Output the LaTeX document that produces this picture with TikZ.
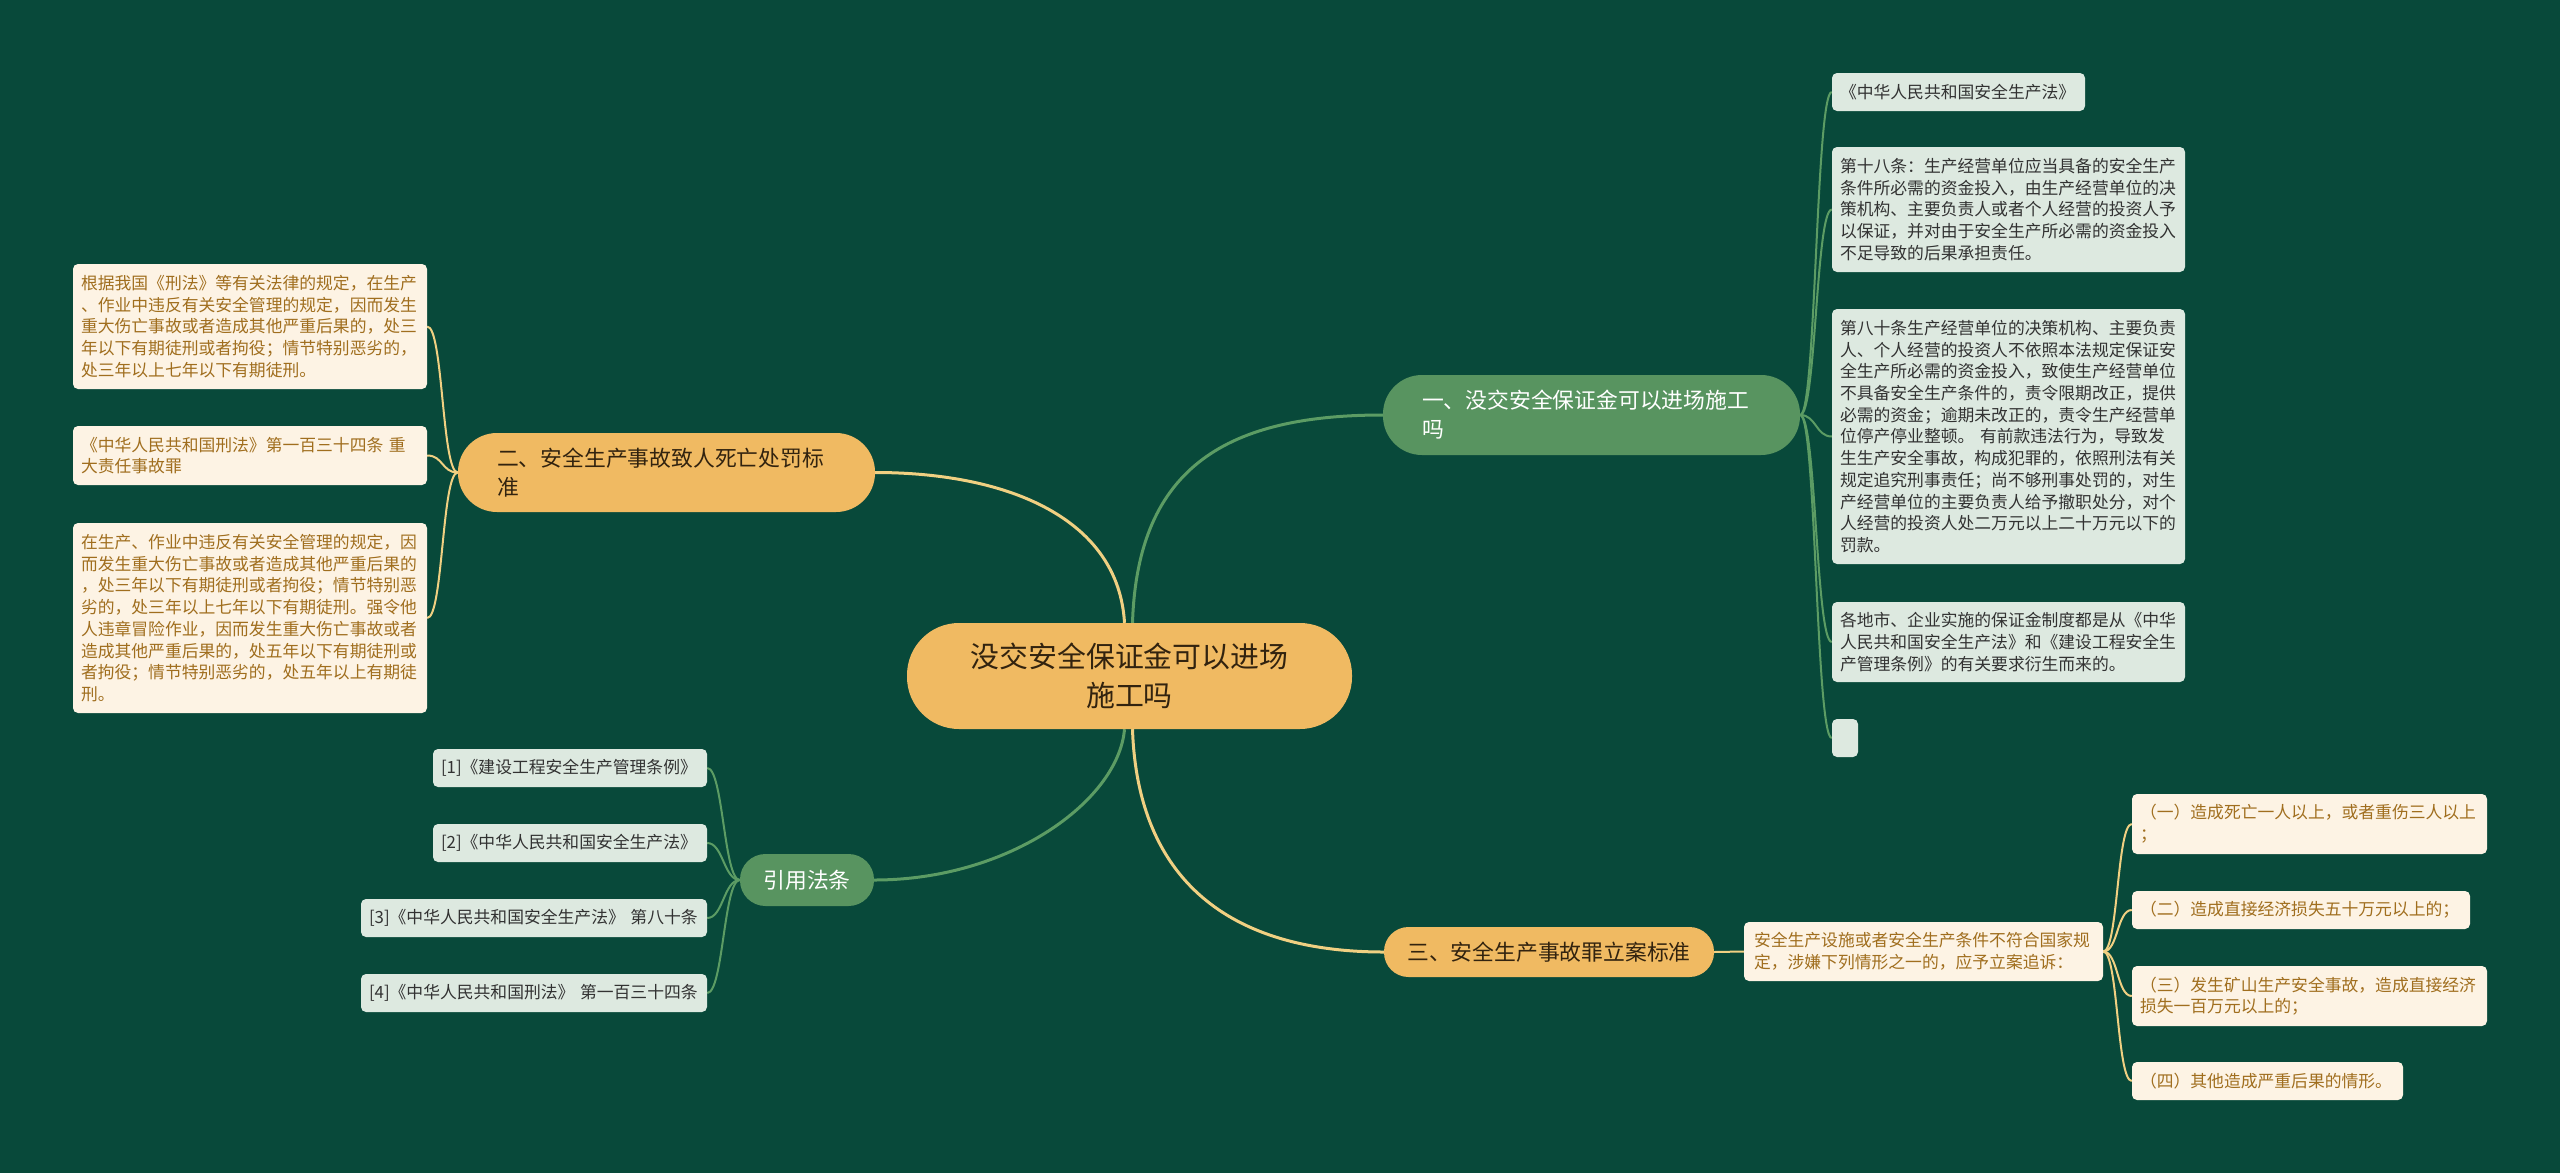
\documentclass[tikz,border=0pt]{standalone}
\usepackage{fontspec}
\setmainfont{Noto Sans CJK SC}
\definecolor{bgc}{RGB}{8,73,58}
\definecolor{gnode}{RGB}{88,148,96}
\definecolor{orng}{RGB}{240,186,98}
\definecolor{glinec}{RGB}{92,156,100}
\definecolor{ylinec}{RGB}{240,208,130}
\definecolor{lgbox}{RGB}{221,233,224}
\definecolor{crbox}{RGB}{253,243,228}
\definecolor{dtext}{RGB}{50,50,50}
\definecolor{gtext}{RGB}{160,110,30}
\definecolor{ptext}{RGB}{50,35,15}
\pgfdeclarelayer{bgl}
\pgfdeclarelayer{edges}
\pgfsetlayers{bgl,edges,main}
\begin{document}
\begin{tikzpicture}[x=1pt,y=-1pt,
  lbox/.style={fill=lgbox, text=dtext, rounded corners=5pt, font=\fontsize{16.8}{21.7}\selectfont, align=left, inner xsep=8pt, inner ysep=0pt},
  cbox/.style={fill=crbox, text=gtext, rounded corners=5pt, font=\fontsize{16.8}{21.7}\selectfont, align=left, inner xsep=8pt, inner ysep=0pt},
  pillO/.style={fill=orng, text=ptext, inner ysep=0pt},
  pillG/.style={fill=gnode, text=white, inner ysep=0pt},
  mainG/.style={draw=glinec, line width=3pt},
  mainY/.style={draw=ylinec, line width=3pt},
  subG/.style={draw=glinec, line width=2pt},
  subY/.style={draw=ylinec, line width=2pt},
]
\begin{pgfonlayer}{bgl}
\fill[bgc] (0,0) rectangle (2560,1173);
\end{pgfonlayer}
\useasboundingbox (0,0) rectangle (2560,1173);

% root
\node[pillO, rounded corners=52pt, minimum width=445pt, minimum height=106pt, text width=405pt, inner xsep=20pt, align=center,
  font=\fontsize{28.9}{39}\selectfont] (root) at (1129.5,676) {没交安全保证金可以进场\\施工吗};

% main branches
\node[pillG, rounded corners=39pt, minimum width=417pt, minimum height=80pt, text width=339pt, inner xsep=39pt, align=left,
  font=\fontsize{21.8}{29}\selectfont] (n1) at (1591.5,415) {一、没交安全保证金可以进场施工\\吗};
\node[pillO, rounded corners=39pt, minimum width=417pt, minimum height=79pt, text width=339pt, inner xsep=39pt, align=left,
  font=\fontsize{21.8}{29}\selectfont] (n2) at (666.5,472.5) {二、安全生产事故致人死亡处罚标\\准};
\node[pillO, rounded corners=24.5pt, minimum width=330pt, minimum height=50pt, text width=300pt, inner xsep=15pt, align=center,
  font=\fontsize{21.8}{29}\selectfont] (n3) at (1549,952) {三、安全生产事故罪立案标准};
\node[pillG, rounded corners=25.5pt, minimum width=134pt, minimum height=52pt, text width=110pt, inner xsep=12pt, align=center,
  font=\fontsize{21.8}{29}\selectfont] (ref) at (807,880) {引用法条};

% children of n1
\node[lbox, minimum width=253pt, minimum height=38pt, text width=237pt] (c1) at (1958.5,92) {《中华人民共和国安全生产法》};
\node[lbox, minimum width=353pt, minimum height=125pt, text width=337pt] (c2) at (2008.5,209.5) {第十八条：生产经营单位应当具备的安全生产\\条件所必需的资金投入，由生产经营单位的决\\策机构、主要负责人或者个人经营的投资人予\\以保证，并对由于安全生产所必需的资金投入\\不足导致的后果承担责任。};
\node[lbox, minimum width=353pt, minimum height=255pt, text width=337pt] (c3) at (2008.5,436.5) {第八十条生产经营单位的决策机构、主要负责\\人、个人经营的投资人不依照本法规定保证安\\全生产所必需的资金投入，致使生产经营单位\\不具备安全生产条件的，责令限期改正，提供\\必需的资金；逾期未改正的，责令生产经营单\\位停产停业整顿。~有前款违法行为，导致发\\生生产安全事故，构成犯罪的，依照刑法有关\\规定追究刑事责任；尚不够刑事处罚的，对生\\产经营单位的主要负责人给予撤职处分，对个\\人经营的投资人处二万元以上二十万元以下的\\罚款。};
\node[lbox, minimum width=353pt, minimum height=80pt, text width=337pt] (c4) at (2008.5,642) {各地市、企业实施的保证金制度都是从《中华\\人民共和国安全生产法》和《建设工程安全生\\产管理条例》的有关要求衍生而来的。};
\node[lbox, minimum width=26pt, minimum height=38pt, inner xsep=0pt] (c5) at (1845,738) {};

% children of n2
\node[cbox, minimum width=354pt, minimum height=125pt, text width=338pt] (b1) at (250,326.5) {根据我国《刑法》等有关法律的规定，在生产\\、作业中违反有关安全管理的规定，因而发生\\重大伤亡事故或者造成其他严重后果的，处三\\年以下有期徒刑或者拘役；情节特别恶劣的，\\处三年以上七年以下有期徒刑。};
\node[cbox, minimum width=354pt, minimum height=59pt, text width=338pt] (b2) at (250,455.5) {《中华人民共和国刑法》第一百三十四条~重\\大责任事故罪};
\node[cbox, minimum width=354pt, minimum height=190pt, text width=338pt] (b3) at (250,618) {在生产、作业中违反有关安全管理的规定，因\\而发生重大伤亡事故或者造成其他严重后果的\\，处三年以下有期徒刑或者拘役；情节特别恶\\劣的，处三年以上七年以下有期徒刑。强令他\\人违章冒险作业，因而发生重大伤亡事故或者\\造成其他严重后果的，处五年以下有期徒刑或\\者拘役；情节特别恶劣的，处五年以上有期徒\\刑。};

% children of ref
\node[lbox, minimum width=274pt, minimum height=38pt, text width=258pt] (r1) at (570,768) {[1]《建设工程安全生产管理条例》};
\node[lbox, minimum width=274pt, minimum height=38pt, text width=258pt] (r2) at (570,843) {[2]《中华人民共和国安全生产法》};
\node[lbox, minimum width=346pt, minimum height=38pt, text width=330pt] (r3) at (534,918) {[3]《中华人民共和国安全生产法》~第八十条};
\node[lbox, minimum width=346pt, minimum height=38pt, text width=330pt] (r4) at (534,993) {[4]《中华人民共和国刑法》~第一百三十四条};

% children of n3
\node[cbox, minimum width=359pt, minimum height=59pt, text width=339pt, inner xsep=10pt] (m) at (1923.5,951.5) {安全生产设施或者安全生产条件不符合国家规\\定，涉嫌下列情形之一的，应予立案追诉：};
\node[cbox, minimum width=355pt, minimum height=60pt, text width=339pt] (t1) at (2309.5,824) {（一）造成死亡一人以上，或者重伤三人以上\\；};
\node[cbox, minimum width=338pt, minimum height=38pt, text width=322pt] (t2) at (2301,910) {（二）造成直接经济损失五十万元以上的；};
\node[cbox, minimum width=355pt, minimum height=60pt, text width=339pt] (t3) at (2309.5,996) {（三）发生矿山生产安全事故，造成直接经济\\损失一百万元以上的；};
\node[cbox, minimum width=271pt, minimum height=38pt, text width=255pt] (t4) at (2267.5,1081) {（四）其他造成严重后果的情形。};

\begin{pgfonlayer}{edges}
  % root to main branches
  \draw[mainG] ([xshift=3pt]root.north) .. controls +(5,-158) and +(-153,0) .. (n1.west);
  \draw[mainY] ([xshift=-5pt]root.north) .. controls +(-6,-103) and +(135,0) .. (n2.east);
  \draw[mainG] ([xshift=-5pt]root.south) .. controls +(-6,71) and +(136,0) .. (ref.east);
  \draw[mainY] ([xshift=3pt]root.south) .. controls +(5,151) and +(-154,0) .. (n3.west);
  % n1 children
  \foreach \c in {c1,c2,c3,c4,c5}
    \draw[subG] (n1.east) .. controls +(16,0) and +(-16,0) .. (\c.west);
  % n2 children
  \foreach \c in {b1,b2,b3}
    \draw[subY] (n2.west) .. controls +(-16,0) and +(16,0) .. (\c.east);
  % ref children
  \foreach \c in {r1,r2,r3,r4}
    \draw[subG] (ref.west) .. controls +(-16,0) and +(16,0) .. (\c.east);
  % n3 children
  \draw[subY] (n3.east) -- (m.west);
  \foreach \c in {t1,t2,t3,t4}
    \draw[subY] (m.east) .. controls +(15,0) and +(-15,0) .. (\c.west);
\end{pgfonlayer}
\end{tikzpicture}
\end{document}
